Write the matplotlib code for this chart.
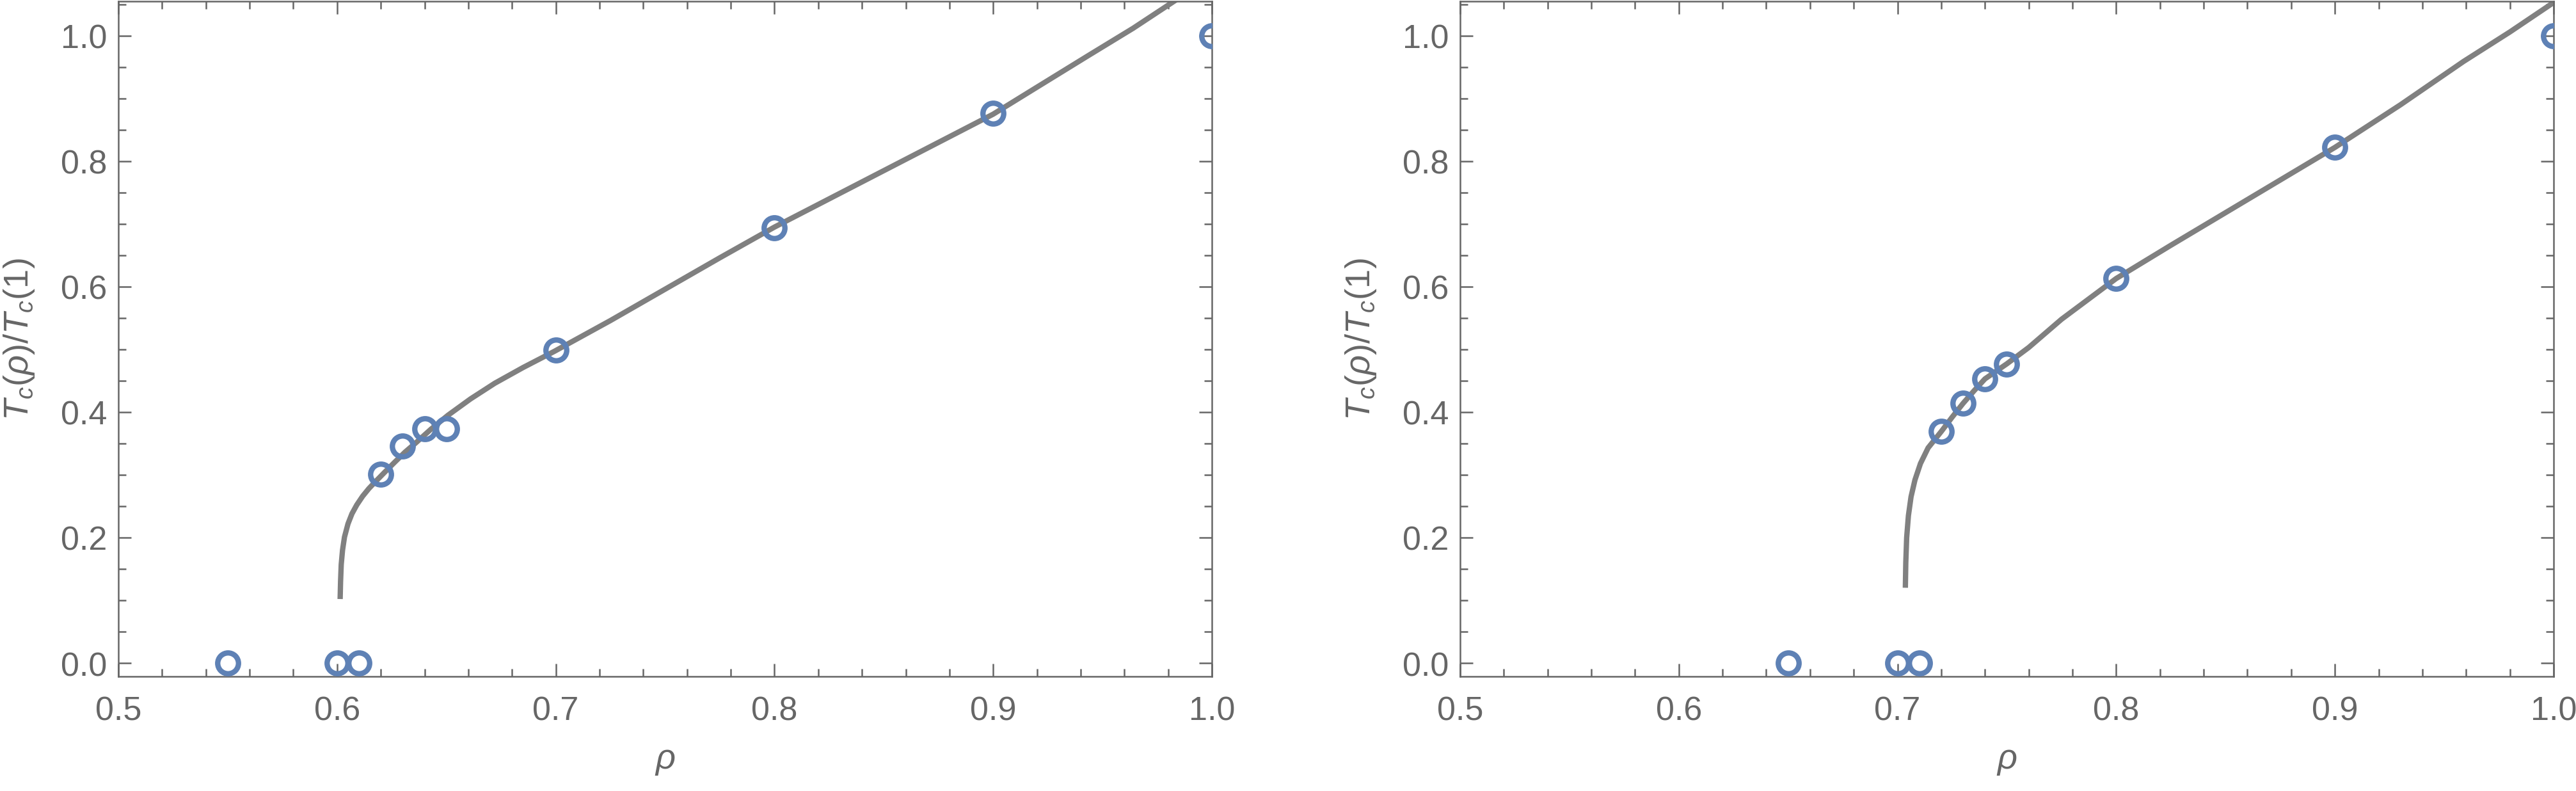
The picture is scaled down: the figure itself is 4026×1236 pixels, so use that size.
import matplotlib
matplotlib.use("Agg")
import matplotlib.pyplot as plt
from matplotlib.ticker import MultipleLocator, FormatStrFormatter

plt.rcParams['font.family'] = 'Liberation Sans'
plt.rcParams['mathtext.fontset'] = 'custom'
plt.rcParams['mathtext.rm'] = 'Liberation Sans'
plt.rcParams['mathtext.it'] = 'Liberation Sans:italic'

AXIS_GRAY = '#666666'
CURVE_GRAY = '#808080'
POINT_BLUE = '#5E81B5'

# left panel: simulation points and fitted curve
left_rho = [0.55, 0.60, 0.61, 0.62, 0.63, 0.64, 0.65, 0.70, 0.80, 0.90, 1.00]
left_tc = [0.0, 0.0, 0.0, 0.301, 0.346, 0.373, 0.373, 0.499, 0.694, 0.876, 1.0]
left_curve_rho = [0.6014, 0.6016, 0.6019, 0.6025, 0.6034, 0.6050, 0.6068, 0.6090,
                  0.6117, 0.6145, 0.6175, 0.6220, 0.6263, 0.6310, 0.6360, 0.6430,
                  0.6507, 0.6610, 0.6721, 0.6850, 0.6994, 0.7250, 0.7500, 0.7750,
                  0.8000, 0.8250, 0.8500, 0.8750, 0.9000, 0.9200, 0.9433, 0.9640,
                  0.9840]
left_curve_tc = [0.102, 0.130, 0.157, 0.180, 0.201, 0.222, 0.238, 0.252,
                 0.266, 0.278, 0.289, 0.305, 0.320, 0.336, 0.351, 0.373,
                 0.395, 0.421, 0.446, 0.471, 0.497, 0.546, 0.596, 0.646,
                 0.695, 0.740, 0.785, 0.830, 0.875, 0.918, 0.968, 1.012,
                 1.058]

# right panel
right_rho = [0.65, 0.70, 0.71, 0.72, 0.73, 0.74, 0.75, 0.80, 0.90, 1.00]
right_tc = [0.0, 0.0, 0.0, 0.369, 0.414, 0.453, 0.477, 0.613, 0.822, 1.0]
right_curve_rho = [0.7036, 0.7038, 0.7042, 0.7050, 0.7062, 0.7080, 0.7105, 0.7140,
                   0.7200, 0.7250, 0.7300, 0.7350, 0.7400, 0.7500, 0.7600, 0.7750,
                   0.8000, 0.8250, 0.8500, 0.8750, 0.9000, 0.9300, 0.9588, 0.9800,
                   1.0000]
right_curve_tc = [0.120, 0.160, 0.200, 0.235, 0.265, 0.292, 0.318, 0.343,
                  0.369, 0.392, 0.414, 0.434, 0.453, 0.477, 0.503, 0.548,
                  0.613, 0.666, 0.718, 0.770, 0.822, 0.890, 0.959, 1.006,
                  1.053]

panels = [
    (left_rho, left_tc, left_curve_rho, left_curve_tc),
    (right_rho, right_tc, right_curve_rho, right_curve_tc),
]

fig = plt.figure(figsize=(13.42, 4.1233), dpi=300)
boxes = [[0.04595, 0.1447, 0.4245, 0.8529], [0.5668, 0.1447, 0.4245, 0.8529]]

for box, (rho, tc, crho, ctc) in zip(boxes, panels):
    ax = fig.add_axes(box)
    ax.plot(crho, ctc, color=CURVE_GRAY, lw=2.0, solid_capstyle='butt', zorder=2)
    ax.plot(rho, tc, ls='none', marker='o', ms=7.8, mew=2.0,
            mfc='none', mec=POINT_BLUE, zorder=3)

    ax.set_xlim(0.5, 1.0)
    ax.set_ylim(-0.0214, 1.055)
    ax.xaxis.set_major_locator(MultipleLocator(0.1))
    ax.xaxis.set_minor_locator(MultipleLocator(0.02))
    ax.yaxis.set_major_locator(MultipleLocator(0.2))
    ax.yaxis.set_minor_locator(MultipleLocator(0.05))
    ax.xaxis.set_major_formatter(FormatStrFormatter('%.1f'))
    ax.yaxis.set_major_formatter(FormatStrFormatter('%.1f'))

    ax.tick_params(which='both', direction='in', top=True, right=True,
                   color=AXIS_GRAY, labelcolor=AXIS_GRAY, width=0.6,
                   labelsize=12.5)
    ax.tick_params(which='major', length=4.8)
    ax.tick_params(which='minor', length=2.8)
    ax.tick_params(axis='x', pad=7)
    ax.tick_params(axis='y', pad=4.3)
    for sp in ax.spines.values():
        sp.set_color(AXIS_GRAY)
        sp.set_linewidth(0.6)

    ax.set_xlabel(r'$\rho$', color=AXIS_GRAY, fontsize=13, va='center')
    ax.xaxis.set_label_coords(0.5, -0.124)
    ax.set_ylabel(r'$T_c(\rho)/T_c(1)$', color=AXIS_GRAY, fontsize=13, labelpad=9)

fig.savefig('out.png', dpi=300, facecolor='white')
